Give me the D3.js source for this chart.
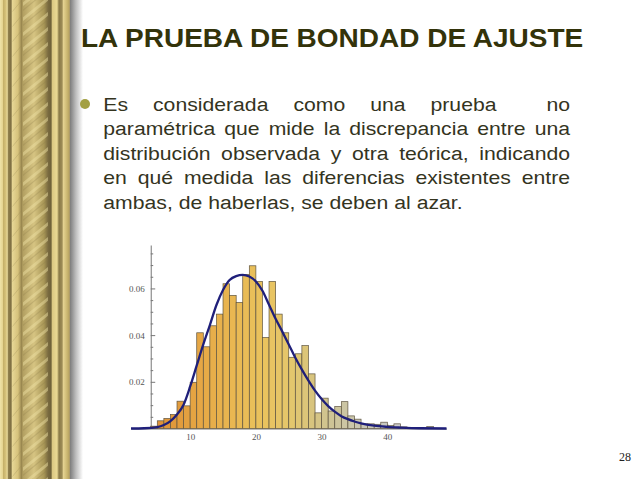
<!DOCTYPE html>
<html>
<head>
<meta charset="utf-8">
<script src="https://cdn.jsdelivr.net/npm/d3@7"></script>
<style>
  html, body { margin: 0; padding: 0; background: #ffffff; }
  svg { display: block; }
</style>
</head>
<body>
<div id="chart"></div>
<script>
// ---------- data ----------
const titleText = "LA PRUEBA DE BONDAD DE AJUSTE";
const bodyLines = [
  "Es considerada como una prueba  no",
  "paramétrica que mide la discrepancia entre una",
  "distribución observada y otra teórica, indicando",
  "en qué medida las diferencias existentes entre",
  "ambas, de haberlas, se deben al azar."
];
const pageNumber = "28";

// histogram bins (left edge) and densities
const binStarts = [4,5,6,7,8,9,10,11,12,13,14,15,16,17,18,19,20,21,22,23,24,25,26,27,28,29,30,31,32,33,34,35,36,37,38,39,40,41,42,43,46];
const binValues = [0.001,0.0033,0.0043,0.006,0.0117,0.0097,0.0198,0.041,0.035,0.044,0.049,0.062,0.057,0.054,0.066,0.0697,0.063,0.039,0.063,0.049,0.041,0.0305,0.032,0.0355,0.0234,0.0067,0.013,0.0075,0.0094,0.0115,0.0054,0.004,0.002,0.002,0.0018,0.0027,0.0013,0.002,0.0007,0.0004,0.0008];

// fitted density curve
const curveX = [1,3,5,6,7,8,9,10,11,12,13,14,15,16,17,18,19,20,21,22,23,24,25,26,27,28,29,30,31,32,33,34,35,36,38,40,42,45,49];
const curveY = [0,0.0001,0.0006,0.0015,0.0032,0.006,0.0102,0.018,0.027,0.036,0.0443,0.0529,0.0593,0.0636,0.0653,0.0658,0.0651,0.063,0.059,0.053,0.047,0.0416,0.036,0.0303,0.0252,0.0205,0.0162,0.0126,0.0096,0.0072,0.0053,0.004,0.003,0.0022,0.0012,0.0007,0.0004,0.0001,0];

const yTickValues = [0.02, 0.04, 0.06];
const yMinorTicks = [0.005,0.01,0.015,0.025,0.03,0.035,0.045,0.05,0.055,0.065,0.07,0.075];
const xTickValues = [10, 20, 30, 40];

// ---------- page ----------
const W = 638, H = 479;
const svg = d3.select("#chart").append("svg").attr("width", W).attr("height", H);
const defs = svg.append("defs");

// decorative left border
const g1 = defs.append("linearGradient").attr("id","border").attr("x1","0").attr("x2","1").attr("y1","0").attr("y2","0");
[[0,"#efe3a8"],[2.5,"#e6d592"],[3.2,"#c4af68"],[6,"#d8c47c"],[7.2,"#eadb9c"],[8.5,"#8f7f4c"],[11,"#7d6e42"],[12.5,"#e6d694"],
 [18,"#d6c27c"],[21.5,"#9a8850"],[23,"#b3a062"],[34,"#d6c482"],[44,"#a89656"],[48,"#7a6b40"],[51,"#6e6139"],[52.5,"#dcc984"],
 [57,"#ead994"],[59,"#8a7a48"],[62,"#9c8c56"],[63.5,"#e4d290"],[67,"#cbb872"],[69,"#b8a462"],[70,"#a39470"]]
 .forEach(([o,c]) => g1.append("stop").attr("offset", (o/70*100)+"%").attr("stop-color", c));
const g2 = defs.append("linearGradient").attr("id","shadow").attr("x1","0").attr("x2","1").attr("y1","0").attr("y2","0");
g2.append("stop").attr("offset","0%").attr("stop-color","#7c7c7c");
g2.append("stop").attr("offset","45%").attr("stop-color","#bdbdbd");
g2.append("stop").attr("offset","100%").attr("stop-color","#ffffff");
defs.append("clipPath").attr("id","rope").append("rect").attr("x",23).attr("y",0).attr("width",25).attr("height",H);
defs.append("clipPath").attr("id","rope2").append("rect").attr("x",12.5).attr("y",0).attr("width",9).attr("height",H);

svg.append("rect").attr("x",0).attr("y",0).attr("width",70).attr("height",H).attr("fill","url(#border)");
svg.append("rect").attr("x",70).attr("y",0).attr("width",13).attr("height",H).attr("fill","url(#shadow)");
const rope = svg.append("g").attr("clip-path","url(#rope)");
d3.range(-30, H + 30, 15).forEach(yy => {
  rope.append("line").attr("x1",22).attr("y1",yy+20).attr("x2",49).attr("y2",yy-2)
    .attr("stroke","#f0e3a6").attr("stroke-width",3).attr("opacity",0.45);
  rope.append("line").attr("x1",22).attr("y1",yy+26).attr("x2",49).attr("y2",yy+4)
    .attr("stroke","#8a7a48").attr("stroke-width",1.2).attr("opacity",0.25);
});
const rope2 = svg.append("g").attr("clip-path","url(#rope2)");
d3.range(-30, H + 30, 15).forEach(yy => {
  rope2.append("line").attr("x1",12).attr("y1",yy+12).attr("x2",22).attr("y2",yy)
    .attr("stroke","#9a8a52").attr("stroke-width",1).attr("opacity",0.3);
});

// title
svg.append("text")
  .attr("transform","translate(81,46.5) scale(1,0.95)")
  .attr("font-family","'Liberation Sans', Arial, sans-serif")
  .attr("font-weight","bold").attr("font-size",28).attr("fill","#33330a")
  .text(titleText);

// bullet
svg.append("circle").attr("cx",85).attr("cy",104).attr("r",5).attr("fill","#a3a043");

// justified body
const bodyFont = "'Liberation Sans', Arial, sans-serif", bodySize = 21.2;
const left = 103.3, right = 570, base0 = 110.7, lineGap = 24.5;
const spaceW = (() => {
  const t = svg.append("text").attr("font-family",bodyFont).attr("font-size",bodySize).text("a a");
  const a = t.node().getComputedTextLength(); t.text("aa");
  const b = t.node().getComputedTextLength(); t.remove(); return a - b;
})();
bodyLines.forEach((line, i) => {
  const words = line.split(" ");
  const baseline = base0 + i * lineGap;
  const justify = i < bodyLines.length - 1;
  const nodes = words.map(w => svg.append("text")
    .attr("font-family",bodyFont)
    .attr("font-size",bodySize).attr("fill","#34341e").text(w));
  const widths = nodes.map(n => n.node().getComputedTextLength());
  const total = d3.sum(widths);
  const gap = justify ? (right - left - total) / (words.length - 1) : spaceW;
  let xx = left;
  nodes.forEach((n, k) => {
    n.attr("transform", `translate(${xx},${baseline}) scale(1,0.87)`);
    xx += widths[k] + gap;
  });
});

// page number
svg.append("text").attr("x",619).attr("y",461)
  .attr("font-family","'Liberation Serif', 'Times New Roman', serif")
  .attr("font-size",12).attr("fill","#222").text(pageNumber);

// ---------- chart ----------
const x = d3.scaleLinear().domain([1, 49]).range([131, 446.5]);
const y = d3.scaleLinear().domain([0, 0.0786]).range([428.5, 245]);
const color = d3.scaleLinear()
  .domain([4, 8, 12, 17, 21, 25, 28, 31, 35, 40])
  .range(["#de8f35","#e29c3d","#e7ab47","#e9ba54","#e9c35e","#e3c76d","#d8c47e","#cec496","#c9c6b0","#c8c8c4"]);

const axisFont = "'Liberation Serif', 'Times New Roman', serif";

// y axis (ticks point inward, labels on the left)
const yAxisG = svg.append("g").attr("transform", `translate(${x(4)},0)`)
  .call(d3.axisLeft(y).tickValues(yTickValues).tickSize(-4.5).tickSizeOuter(0).tickPadding(6).tickFormat(d3.format(".2f")));
yAxisG.select(".domain").attr("stroke","#777");
yAxisG.selectAll(".tick line").attr("stroke","#777");
yAxisG.selectAll("text").attr("font-family",axisFont).attr("font-size",9).attr("fill","#555");
const yMinorG = svg.append("g").attr("transform", `translate(${x(4)},0)`)
  .call(d3.axisRight(y).tickValues(yMinorTicks).tickSize(2.5).tickSizeOuter(0).tickFormat(""));
yMinorG.select(".domain").remove();
yMinorG.selectAll(".tick line").attr("stroke","#777");

// x axis
const xAxisG = svg.append("g").attr("transform", `translate(0,${y(0)})`)
  .call(d3.axisBottom(x).tickValues(xTickValues).tickSize(-4).tickSizeOuter(0).tickPadding(5));
xAxisG.select(".domain").attr("stroke","#777");
xAxisG.selectAll(".tick line").attr("stroke","#777");
xAxisG.selectAll("text").attr("font-family",axisFont).attr("font-size",9).attr("fill","#555");

// bars
svg.append("g").selectAll("rect")
  .data(binStarts.map((b, i) => ({ b, v: binValues[i] })))
  .join("rect")
  .attr("x", d => x(d.b))
  .attr("y", d => y(d.v))
  .attr("width", d => x(d.b + 1) - x(d.b))
  .attr("height", d => y(0) - y(d.v))
  .attr("fill", d => color(d.b))
  .attr("stroke", "#5e5440")
  .attr("stroke-width", 0.7);

// fitted curve
const line = d3.line().x(d => x(d[0])).y(d => y(d[1])).curve(d3.curveMonotoneX);
svg.append("path")
  .datum(curveX.map((cx, i) => [cx, curveY[i]]))
  .attr("d", line)
  .attr("fill","none")
  .attr("stroke","#1f1f7a")
  .attr("stroke-width",2.3)
  .attr("stroke-linejoin","round");
</script>
</body>
</html>
